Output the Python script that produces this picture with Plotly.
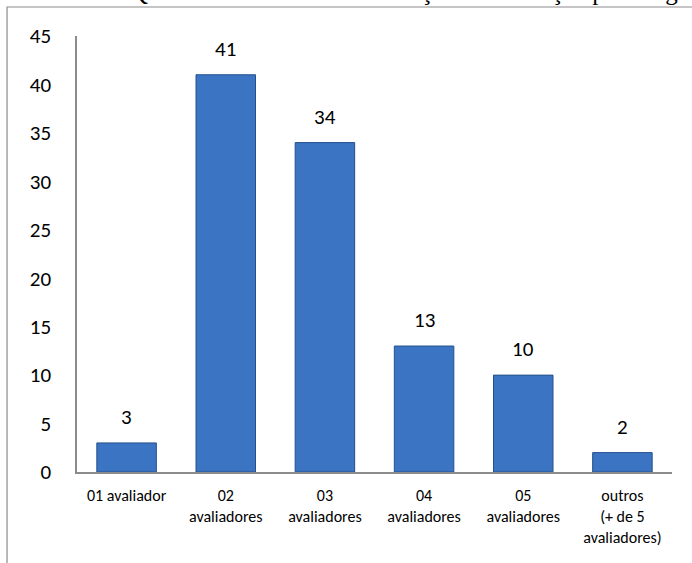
import plotly.graph_objects as go

# Number of reviewers per article
categorias = [
    "01 avaliador",
    "02<br>avaliadores",
    "03<br>avaliadores",
    "04<br>avaliadores",
    "05<br>avaliadores",
    "outros<br>(+ de 5<br>avaliadores)",
]
quantidades = [3, 41, 34, 13, 10, 2]
y_ticks = [0, 5, 10, 15, 20, 25, 30, 35, 40, 45]

titulo = "Gráfico 3 – Quantidade média de solicitação de avaliação por artigo"

FONT = "Carlito, Calibri, Lato, 'Open Sans', sans-serif"

fig = go.Figure()
fig.add_trace(
    go.Bar(
        x=categorias,
        y=quantidades,
        marker=dict(color="#3b74c2", line=dict(color="#24508c", width=1)),
        width=0.6,
        hoverinfo="x+y",
    )
)

# value labels above each bar
for cat, val in zip(categorias, quantidades):
    fig.add_annotation(
        x=cat, y=val, text=str(val), showarrow=False,
        xref="x", yref="y", yanchor="bottom", yshift=11,
        font=dict(family=FONT, size=21, color="#000000"),
    )

# chart frame
fig.add_shape(
    type="rect", xref="paper", yref="paper",
    x0=-0.1176, y0=-0.3, x1=1.2, y1=1.0665,
    line=dict(color="#8c8c8c", width=1.2), fillcolor="rgba(0,0,0,0)",
    layer="below",
)

# caption above the frame
fig.add_annotation(
    text=titulo, xref="paper", yref="paper", x=-0.116, y=1.066,
    xanchor="left", yanchor="bottom", showarrow=False,
    font=dict(family="'Liberation Serif', 'Times New Roman', serif", size=25, color="#000000"),
)

fig.update_layout(
    width=692,
    height=563,
    margin=dict(l=77, r=20, t=36, b=91),
    paper_bgcolor="#ffffff",
    plot_bgcolor="#ffffff",
    showlegend=False,
    bargap=0.4,
    font=dict(family=FONT, color="#000000"),
)
fig.update_xaxes(
    showline=True, linecolor="#8c8c8c", linewidth=1.5,
    showgrid=False, ticks="", tickfont=dict(family=FONT, size=16, color="#000000"),
    ticklabelstandoff=8,
)
fig.update_yaxes(
    range=[0, 45], tickvals=y_ticks, showline=True, linecolor="#8c8c8c", linewidth=1.5,
    showgrid=False, zeroline=False, ticks="", ticklabelstandoff=20,
    tickfont=dict(family=FONT, size=21, color="#000000"),
)

fig.write_html("out.html")
